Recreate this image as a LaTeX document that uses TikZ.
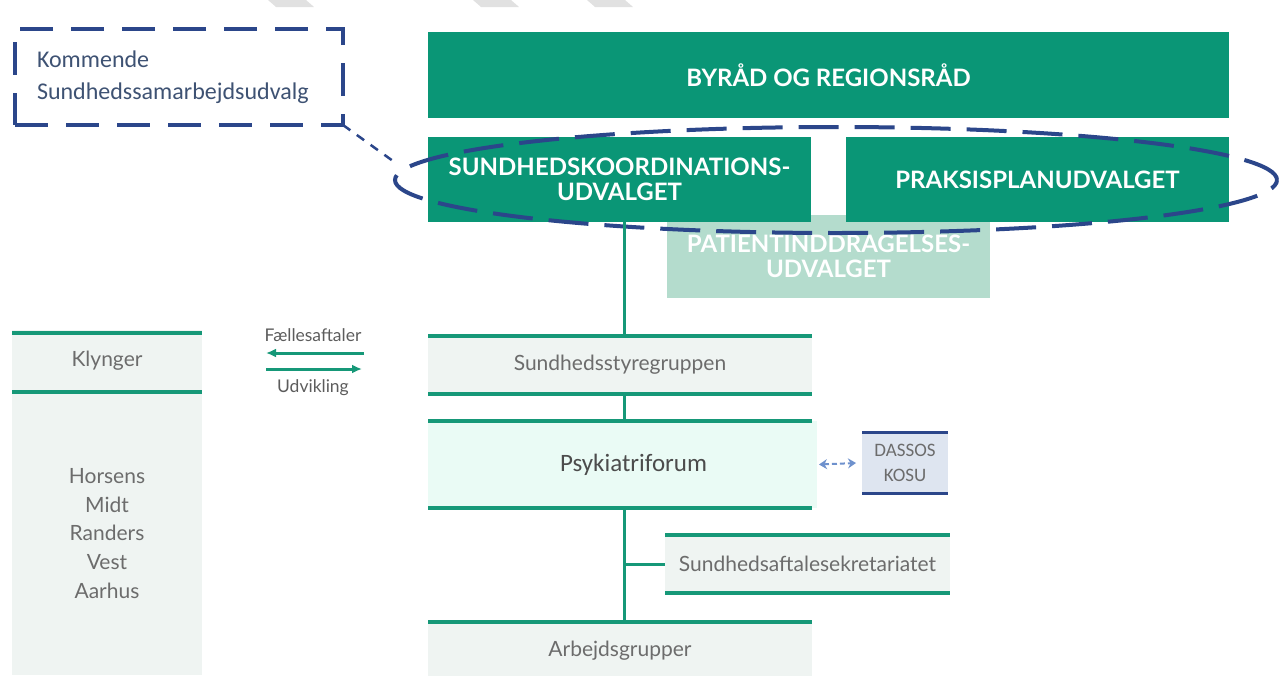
\documentclass[tikz,border=0pt]{standalone}
\usepackage{fontspec}
\setmainfont{Lato}
\newfontfamily\calib{Carlito}
\usetikzlibrary{shapes,arrows.meta,calc,positioning}

\definecolor{dkgreen}{RGB}{10,150,118}
\definecolor{ltgreen}{RGB}{180,220,205}
\definecolor{lngreen}{RGB}{22,152,120}
\definecolor{bandgray}{RGB}{239,244,242}
\definecolor{mint}{RGB}{234,251,245}
\definecolor{navy}{RGB}{43,70,138}
\definecolor{slate}{RGB}{62,82,115}
\definecolor{txtgray}{RGB}{108,108,108}
\definecolor{dassosfill}{RGB}{222,229,240}
\definecolor{arrblue}{RGB}{110,145,205}
\definecolor{wmgray}{RGB}{225,225,225}

\begin{document}
\begin{tikzpicture}[x=1pt,y=-1pt,
    every node/.style={inner sep=0pt,outer sep=0pt},
    council/.style={fill=dkgreen,text=white,align=center,minimum height=85pt,
      font=\fontsize{24}{25}\selectfont\bfseries},
    band/.style={fill=bandgray,text=txtgray,align=center,minimum height=58pt,
      font=\fontsize{21}{28.7}\selectfont},
    gline/.style={draw=lngreen,line width=3.5pt},
    navydash/.style={draw=navy,line width=4pt,dash pattern=on 40pt off 16pt},
    flow/.style={draw=lngreen,line width=3pt,-{Latex[length=10pt,width=9pt]}}]
  \useasboundingbox (0,0) rectangle (1279,675);

  % faint marks along the top edge
  \foreach \x in {268,473,587}
    \fill[wmgray] (\x,0) -- (\x+38,0) -- (\x+46,7) -- (\x+8,7) -- cycle;

  % councils
  \node[council,fill=ltgreen,minimum width=323pt,minimum height=83pt] (patient) at (828.5,256.5)
    {PATIENTINDDRAGELSES-\\UDVALGET};
  \node[council,minimum width=801pt,minimum height=86pt] (byrad) at (828.5,75) {BYRÅD OG REGIONSRÅD};
  \node[council,minimum width=383pt] (skudv) at (619.5,179.5) {SUNDHEDSKOORDINATIONS-\\UDVALGET};
  \node[council,minimum width=383pt] (ppu) at (1037.5,179.5) {PRAKSISPLANUDVALGET};
  \node[ellipse,navydash,minimum width=882pt,minimum height=106pt] (ring) at (836,180) {};

  \node[draw=navy,line width=4pt,dash pattern=on 33pt off 18pt,text width=284pt,inner xsep=22pt,
    minimum height=96pt,align=left,text=slate,font=\calib\fontsize{24}{32}\selectfont]
    (kommende) at (179,77) {Kommende\\Sundhedssamarbejdsudvalg};
  \coordinate (ringend) at (393,161);
  \draw[navy,line width=2.5pt,dash pattern=on 9pt off 8pt] (kommende.south east) -- (ringend);

  % groups
  \node[band,minimum width=384pt] (styr) at (620,365) {Sundhedsstyregruppen};
  \node[band,fill=mint,minimum width=389pt,minimum height=87pt,text=black!70,
    font=\calib\fontsize{25}{28}\selectfont] (psyk) at (622.5,464.5) {\hspace*{22pt}Psykiatriforum};
  \node[band,minimum width=285pt] (sekr) at (807.5,564) {Sundhedsaftalesekretariatet};
  \node[band,minimum width=384pt] (arb) at (620,651) {Arbejdsgrupper};
  \node[fill=dassosfill,minimum width=86pt,minimum height=61pt,align=center,text=txtgray,
    font=\calib\fontsize{19}{25}\selectfont] (dassos) at (905,463) {DASSOS\\KOSU};

  \node[band,minimum width=190pt,minimum height=62pt] (klynger) at (107,361) {Klynger};
  \node[band,minimum width=190pt,minimum height=283pt] (byer) at (107,533.5)
    {Horsens\\Midt\\Randers\\Vest\\Aarhus};

  % band rules
  \foreach \n in {styr,sekr}
    \draw[gline] (\n.north west) -- (\n.north east) (\n.south west) -- (\n.south east);
  \draw[gline] (klynger.north west) ++(0,3) -- ++(190,0);
  \draw[gline] (klynger.south west) -- ++(190,0);
  \draw[gline] (psyk.north west) -- ++(384,0) (psyk.south west) -- ++(384,0);
  \draw[gline] (arb.north west) -- (arb.north east);
  \draw[navy,line width=3pt] (dassos.north west) -- (dassos.north east)
    (dassos.south west) -- (dassos.south east);

  % spine
  \coordinate (spine) at (624,0);
  \draw[gline,line width=3pt] (skudv.south -| spine) -- (styr.north -| spine)
    (styr.south -| spine) -- (psyk.north -| spine)
    (psyk.south -| spine) -- (arb.north -| spine);
  \draw[gline,line width=3pt] (sekr.west -| spine) -- (sekr.west);
  \draw[arrblue,line width=2pt,dash pattern=on 5pt off 3pt,
    {Stealth[length=8pt,width=10pt]}-{Stealth[length=8pt,width=10pt]}]
    ([xshift=2pt]psyk.east) -- ([xshift=-6pt]dassos.west);

  % agreements
  \coordinate (fa1) at (364,353);
  \coordinate (fa2) at (266,353);
  \coordinate (ud1) at (266,369);
  \coordinate (ud2) at (362,369);
  \draw[flow] (fa1) -- (fa2);
  \draw[flow] (ud1) -- (ud2);
  \node[text=txtgray!85!black,font=\fontsize{17.5}{18}\selectfont] (faelles) at (313,335) {Fællesaftaler};
  \node[text=txtgray!85!black,font=\fontsize{17.5}{18}\selectfont] (udv) at (313,388) {Udvikling};
\end{tikzpicture}
\end{document}
